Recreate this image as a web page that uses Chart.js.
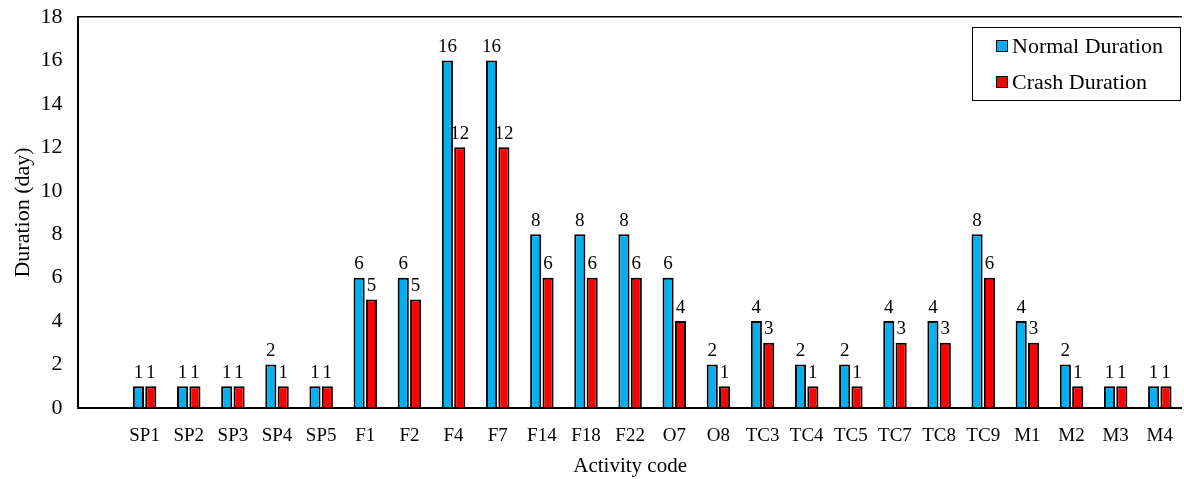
<!DOCTYPE html>
<html>
<head>
<meta charset="utf-8">
<script src="https://cdn.jsdelivr.net/npm/chart.js@4.4.1/dist/chart.umd.min.js"></script>
<style>
  html, body { margin: 0; padding: 0; background: #fff; overflow: hidden; }
  #wrap { width: 1190px; height: 479px; position: relative; }
</style>
</head>
<body>
<div id="wrap"><canvas id="c"></canvas></div>
<script>
// Activity codes (the leading blank slot leaves a gap after the y axis)
const activities = ['', 'SP1', 'SP2', 'SP3', 'SP4', 'SP5', 'F1', 'F2', 'F4', 'F7', 'F14', 'F18', 'F22',
  'O7', 'O8', 'TC3', 'TC4', 'TC5', 'TC7', 'TC8', 'TC9', 'M1', 'M2', 'M3', 'M4'];
const normalDuration = [null, 1, 1, 1, 2, 1, 6, 6, 16, 16, 8, 8, 8, 6, 2, 4, 2, 2, 4, 4, 8, 4, 2, 1, 1];
const crashDuration  = [null, 1, 1, 1, 1, 1, 5, 5, 12, 12, 6, 6, 6, 4, 1, 3, 1, 1, 3, 3, 6, 3, 1, 1, 1];
const yTicks = [0, 2, 4, 6, 8, 10, 12, 14, 16, 18];

const FONT = '"Liberation Serif", "Times New Roman", serif';

// Value labels above each bar
const valueLabels = {
  id: 'valueLabels',
  afterDatasetsDraw(chart) {
    const ctx = chart.ctx;
    ctx.save();
    ctx.font = '19px ' + FONT;
    ctx.fillStyle = '#000';
    ctx.textAlign = 'center';
    ctx.textBaseline = 'bottom';
    chart.data.datasets.forEach((ds, i) => {
      chart.getDatasetMeta(i).data.forEach((bar, j) => {
        const v = ds.data[j];
        if (v === null || v === undefined) return;
        ctx.fillText(String(v), bar.x, bar.y - 4);
      });
    });
    ctx.restore();
  }
};

// Boxed legend in the top-right corner of the plot
const boxLegend = {
  id: 'boxLegend',
  afterDraw(chart) {
    const ctx = chart.ctx;
    const x0 = 972, y0 = 27, w = 208, h = 73;
    ctx.save();
    ctx.fillStyle = '#fff';
    ctx.fillRect(x0, y0, w, h);
    ctx.strokeStyle = '#000';
    ctx.lineWidth = 1;
    ctx.strokeRect(x0 + 0.5, y0 + 0.5, w, h);
    ctx.font = '22px ' + FONT;
    ctx.textBaseline = 'middle';
    chart.data.datasets.forEach((ds, i) => {
      const cy = y0 + 19 + i * 36;
      ctx.fillStyle = ds.backgroundColor;
      ctx.fillRect(x0 + 24, cy - 6, 12, 12);
      ctx.strokeStyle = '#000';
      ctx.strokeRect(x0 + 24.5, cy - 5.5, 11, 11);
      ctx.fillStyle = '#000';
      ctx.fillText(ds.label, x0 + 40, cy + 1);
    });
    ctx.restore();
  }
};

new Chart(document.getElementById('c'), {
  type: 'bar',
  data: {
    labels: activities,
    datasets: [
      { label: 'Normal Duration', data: normalDuration, backgroundColor: '#00B0F0', borderColor: '#000', borderWidth: 2 },
      { label: 'Crash Duration', data: crashDuration, backgroundColor: '#FF0000', borderColor: '#000', borderWidth: 2 }
    ]
  },
  options: {
    responsive: true,
    maintainAspectRatio: false,
    animation: false,
    layout: { padding: { top: 17, right: 0, left: 10, bottom: 0 } },
    datasets: { bar: { categoryPercentage: 0.56, barPercentage: 0.9 } },
    plugins: { legend: { display: false }, tooltip: { enabled: false } },
    scales: {
      x: {
        grid: { display: false, drawTicks: false },
        border: { color: '#000', width: 2 },
        ticks: { color: '#000', font: { family: FONT, size: 19 }, padding: 17, maxRotation: 0, autoSkip: false },
        title: { display: true, text: 'Activity code', color: '#000', font: { family: FONT, size: 21 }, padding: { top: -11, bottom: 0 } }
      },
      y: {
        min: 0, max: 18,
        afterBuildTicks(axis) { axis.ticks = yTicks.map(v => ({ value: v })); },
        afterFit(axis) { axis.paddingTop = 0; },
        grid: {
          drawTicks: false,
          color: c => (c.tick && c.tick.value === 18 ? '#000' : 'rgba(0,0,0,0)'),
          lineWidth: 1.5
        },
        border: { color: '#000', width: 2 },
        ticks: { color: '#000', font: { family: FONT, size: 22 }, padding: 16 },
        title: { display: true, text: 'Duration (day)', color: '#000', font: { family: FONT, size: 22 }, padding: { top: 0, bottom: -12 } }
      }
    }
  },
  plugins: [valueLabels, boxLegend]
});
</script>
</body>
</html>
